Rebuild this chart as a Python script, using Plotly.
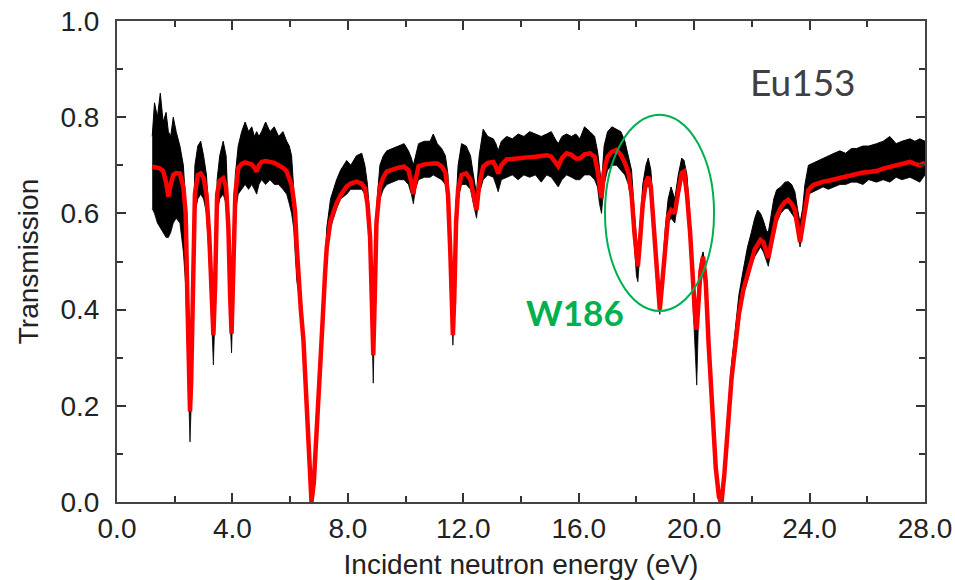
import plotly.graph_objects as go

# Energy grid (eV), fitted transmission (red), and observed data envelope (black band)
energy = [1.22, 1.30, 1.40, 1.50, 1.60, 1.70, 1.78, 1.86, 1.95, 2.05, 2.18, 2.30, 2.38, 2.44, 2.50, 2.53, 2.57, 2.62, 2.70, 2.80,
          2.90, 3.00, 3.10, 3.20, 3.28, 3.34, 3.40, 3.47, 3.56, 3.68, 3.78, 3.86, 3.92, 3.97, 4.03, 4.10, 4.20, 4.32, 4.44, 4.56,
          4.67, 4.76, 4.84, 4.92, 5.01, 5.15, 5.30, 5.45, 5.60, 5.75, 5.88, 5.97, 6.05, 6.12, 6.17, 6.23, 6.28, 6.37, 6.46, 6.57,
          6.66, 6.74, 6.82, 6.90, 6.98, 7.09, 7.21, 7.27, 7.40, 7.50, 7.61, 7.75, 7.96, 8.10, 8.30, 8.48, 8.59, 8.68, 8.77, 8.83,
          8.88, 8.93, 8.99, 9.11, 9.23, 9.35, 9.55, 9.75, 9.95, 10.10, 10.20, 10.27, 10.34, 10.45, 10.65, 10.85, 10.96, 11.10, 11.25, 11.38,
          11.47, 11.55, 11.60, 11.64, 11.69, 11.75, 11.82, 11.94, 12.10, 12.25, 12.35, 12.46, 12.55, 12.69, 12.85, 13.04, 13.13, 13.21, 13.32, 13.50,
          13.70, 13.90, 14.10, 14.30, 14.50, 14.70, 14.89, 15.05, 15.18, 15.29, 15.42, 15.58, 15.75, 15.90, 16.04, 16.20, 16.39, 16.55, 16.65, 16.72,
          16.79, 16.88, 17.00, 17.15, 17.31, 17.46, 17.60, 17.72, 17.83, 17.93, 18.00, 18.05, 18.12, 18.22, 18.33, 18.41, 18.50, 18.60, 18.72, 18.81,
          18.90, 19.00, 19.10, 19.20, 19.33, 19.45, 19.57, 19.65, 19.75, 19.86, 19.96, 20.04, 20.09, 20.15, 20.22, 20.31, 20.40, 20.50, 20.62, 20.75,
          20.86, 20.95, 21.05, 21.17, 21.30, 21.41, 21.55, 21.70, 21.85, 21.98, 22.10, 22.20, 22.30, 22.40, 22.50, 22.57, 22.66, 22.76, 22.86, 23.00,
          23.15, 23.26, 23.38, 23.49, 23.58, 23.67, 23.76, 23.84, 23.96, 24.13, 24.30, 24.47, 24.65, 24.85, 25.05, 25.25, 25.45, 25.63, 25.85, 26.05,
          26.32, 26.55, 26.78, 27.00, 27.20, 27.48, 27.65, 27.82, 28.00]

fit = [0.697, 0.697, 0.695, 0.693, 0.688, 0.665, 0.635, 0.660, 0.680, 0.684, 0.683, 0.655, 0.600, 0.420, 0.220, 0.188, 0.250, 0.450, 0.640, 0.680,
       0.683, 0.674, 0.640, 0.550, 0.420, 0.347, 0.450, 0.640, 0.668, 0.673, 0.655, 0.570, 0.430, 0.350, 0.480, 0.640, 0.694, 0.703, 0.706, 0.705,
       0.702, 0.695, 0.687, 0.700, 0.707, 0.709, 0.707, 0.705, 0.700, 0.695, 0.687, 0.675, 0.659, 0.630, 0.604, 0.530, 0.475, 0.400, 0.337, 0.198,
       0.060, 0.000, 0.040, 0.120, 0.198, 0.337, 0.475, 0.530, 0.585, 0.605, 0.621, 0.638, 0.656, 0.662, 0.666, 0.662, 0.652, 0.620, 0.550, 0.420,
       0.305, 0.420, 0.580, 0.656, 0.675, 0.687, 0.692, 0.695, 0.697, 0.690, 0.665, 0.640, 0.668, 0.698, 0.702, 0.704, 0.704, 0.704, 0.698, 0.685,
       0.640, 0.520, 0.420, 0.347, 0.430, 0.580, 0.650, 0.680, 0.683, 0.670, 0.640, 0.607, 0.660, 0.697, 0.705, 0.707, 0.697, 0.683, 0.700, 0.712,
       0.713, 0.715, 0.716, 0.717, 0.718, 0.719, 0.721, 0.718, 0.708, 0.698, 0.715, 0.725, 0.722, 0.714, 0.714, 0.723, 0.725, 0.718, 0.690, 0.650,
       0.632, 0.690, 0.718, 0.728, 0.732, 0.722, 0.705, 0.685, 0.640, 0.560, 0.510, 0.490, 0.540, 0.620, 0.665, 0.676, 0.655, 0.570, 0.460, 0.400,
       0.460, 0.540, 0.595, 0.607, 0.600, 0.645, 0.684, 0.687, 0.640, 0.560, 0.450, 0.380, 0.358, 0.420, 0.480, 0.510, 0.460, 0.330, 0.190, 0.070,
       0.010, 0.000, 0.060, 0.170, 0.260, 0.316, 0.390, 0.440, 0.475, 0.500, 0.525, 0.535, 0.545, 0.540, 0.515, 0.507, 0.535, 0.570, 0.593, 0.612,
       0.624, 0.628, 0.620, 0.607, 0.575, 0.541, 0.575, 0.607, 0.649, 0.659, 0.663, 0.666, 0.668, 0.671, 0.674, 0.677, 0.680, 0.683, 0.685, 0.686,
       0.688, 0.693, 0.697, 0.700, 0.704, 0.707, 0.703, 0.700, 0.705]

data_low = [0.61, 0.60, 0.58, 0.57, 0.56, 0.55, 0.55, 0.56, 0.58, 0.59, 0.58, 0.52, 0.45, 0.30, 0.14, 0.125, 0.20, 0.40, 0.60, 0.63,
            0.64, 0.63, 0.60, 0.50, 0.38, 0.285, 0.40, 0.60, 0.63, 0.64, 0.62, 0.53, 0.38, 0.31, 0.44, 0.60, 0.64, 0.65, 0.66, 0.65,
            0.66, 0.65, 0.64, 0.66, 0.67, 0.66, 0.67, 0.66, 0.66, 0.65, 0.64, 0.62, 0.60, 0.57, 0.52, 0.46, 0.44, 0.38, 0.32, 0.18,
            0.05, 0.00, 0.03, 0.11, 0.19, 0.33, 0.47, 0.52, 0.57, 0.59, 0.61, 0.63, 0.64, 0.65, 0.65, 0.65, 0.64, 0.60, 0.53, 0.38,
            0.247, 0.40, 0.56, 0.63, 0.65, 0.66, 0.665, 0.67, 0.67, 0.66, 0.64, 0.62, 0.65, 0.67, 0.675, 0.675, 0.68, 0.675, 0.67, 0.66,
            0.62, 0.49, 0.40, 0.326, 0.41, 0.56, 0.63, 0.66, 0.66, 0.65, 0.62, 0.59, 0.64, 0.67, 0.68, 0.675, 0.66, 0.645, 0.67, 0.675,
            0.68, 0.67, 0.68, 0.675, 0.68, 0.665, 0.68, 0.675, 0.665, 0.655, 0.67, 0.68, 0.675, 0.67, 0.67, 0.68, 0.68, 0.67, 0.655, 0.62,
            0.60, 0.66, 0.69, 0.70, 0.70, 0.69, 0.68, 0.66, 0.62, 0.53, 0.47, 0.458, 0.52, 0.60, 0.65, 0.66, 0.64, 0.55, 0.44, 0.39,
            0.45, 0.53, 0.58, 0.59, 0.58, 0.63, 0.67, 0.67, 0.62, 0.54, 0.40, 0.30, 0.243, 0.38, 0.45, 0.48, 0.43, 0.31, 0.17, 0.06,
            0.00, 0.00, 0.05, 0.16, 0.25, 0.31, 0.38, 0.43, 0.46, 0.49, 0.51, 0.52, 0.53, 0.52, 0.50, 0.49, 0.52, 0.55, 0.58, 0.60,
            0.61, 0.61, 0.60, 0.59, 0.56, 0.53, 0.56, 0.60, 0.64, 0.645, 0.65, 0.655, 0.65, 0.655, 0.66, 0.66, 0.665, 0.665, 0.66, 0.67,
            0.665, 0.67, 0.665, 0.675, 0.67, 0.675, 0.67, 0.665, 0.68]

data_high = [0.76, 0.83, 0.80, 0.85, 0.79, 0.81, 0.77, 0.76, 0.80, 0.77, 0.74, 0.70, 0.62, 0.45, 0.25, 0.20, 0.30, 0.50, 0.70, 0.74,
             0.75, 0.72, 0.68, 0.58, 0.45, 0.36, 0.48, 0.67, 0.72, 0.75, 0.72, 0.60, 0.46, 0.36, 0.52, 0.68, 0.74, 0.77, 0.79, 0.77,
             0.78, 0.76, 0.77, 0.76, 0.77, 0.79, 0.77, 0.78, 0.76, 0.77, 0.75, 0.74, 0.72, 0.66, 0.62, 0.55, 0.49, 0.42, 0.35, 0.21,
             0.07, 0.01, 0.05, 0.13, 0.21, 0.36, 0.51, 0.57, 0.63, 0.65, 0.67, 0.69, 0.71, 0.70, 0.72, 0.725, 0.70, 0.66, 0.58, 0.45,
             0.32, 0.45, 0.61, 0.70, 0.72, 0.73, 0.735, 0.74, 0.745, 0.73, 0.715, 0.70, 0.72, 0.745, 0.75, 0.75, 0.765, 0.745, 0.735, 0.72,
             0.68, 0.55, 0.45, 0.36, 0.46, 0.62, 0.70, 0.745, 0.74, 0.72, 0.68, 0.64, 0.72, 0.775, 0.76, 0.755, 0.745, 0.73, 0.75, 0.76,
             0.755, 0.765, 0.76, 0.77, 0.765, 0.76, 0.765, 0.77, 0.755, 0.745, 0.76, 0.765, 0.76, 0.765, 0.755, 0.78, 0.77, 0.76, 0.73, 0.69,
             0.66, 0.74, 0.77, 0.78, 0.775, 0.77, 0.75, 0.72, 0.69, 0.60, 0.54, 0.51, 0.57, 0.66, 0.70, 0.715, 0.69, 0.60, 0.48, 0.41,
             0.48, 0.57, 0.63, 0.655, 0.63, 0.68, 0.715, 0.71, 0.68, 0.59, 0.47, 0.40, 0.37, 0.44, 0.50, 0.52, 0.48, 0.35, 0.20, 0.08,
             0.02, 0.01, 0.07, 0.19, 0.29, 0.35, 0.43, 0.482, 0.53, 0.56, 0.59, 0.607, 0.60, 0.585, 0.565, 0.56, 0.59, 0.63, 0.649, 0.655,
             0.665, 0.666, 0.66, 0.645, 0.61, 0.58, 0.61, 0.66, 0.70, 0.705, 0.71, 0.715, 0.72, 0.725, 0.73, 0.725, 0.735, 0.735, 0.74, 0.74,
             0.745, 0.75, 0.76, 0.745, 0.75, 0.755, 0.75, 0.755, 0.75]

x_ticks = [0, 4, 8, 12, 16, 20, 24, 28]
y_ticks = [0.0, 0.2, 0.4, 0.6, 0.8, 1.0]

fig = go.Figure()
fig.add_trace(go.Scatter(x=energy, y=data_low, mode="lines",
                         line=dict(color="black", width=0.8), showlegend=False, hoverinfo="skip"))
fig.add_trace(go.Scatter(x=energy, y=data_high, mode="lines", fill="tonexty", fillcolor="black",
                         line=dict(color="black", width=1), showlegend=False))
fig.add_trace(go.Scatter(x=energy, y=fit, mode="lines",
                         line=dict(color="#ff0000", width=4.5), showlegend=False))

axis_font = dict(family="Liberation Sans, Arial, sans-serif", size=28, color="#222222")

fig.update_layout(
    width=955, height=580,
    margin=dict(l=117, r=30, t=21, b=78),
    paper_bgcolor="white", plot_bgcolor="white",
    font=axis_font,
    xaxis=dict(range=[0, 28], tickvals=x_ticks, ticktext=[f"{v:.1f}" for v in x_ticks],
               ticks="inside", ticklen=9, tickwidth=2, tickcolor="#333",
               minor=dict(dtick=2, ticks="inside", ticklen=6, tickwidth=2, tickcolor="#333"),
               showline=True, linecolor="#444", linewidth=2, mirror="ticks",
               showgrid=False, zeroline=False, tickfont=axis_font, automargin=False,
               title=dict(text="Incident neutron energy (eV)", font=axis_font, standoff=14)),
    yaxis=dict(range=[0, 1], tickvals=y_ticks, ticktext=[f"{v:.1f}" for v in y_ticks],
               ticks="inside", ticklen=9, tickwidth=2, tickcolor="#333",
               minor=dict(dtick=0.1, ticks="inside", ticklen=6, tickwidth=2, tickcolor="#333"),
               showline=True, linecolor="#444", linewidth=2, mirror="ticks",
               showgrid=False, zeroline=False, tickfont=axis_font, ticklabelstandoff=10, automargin=False,
               title=dict(text="Transmission", font=axis_font, standoff=14)),
)

fig.add_shape(type="circle", xref="x", yref="y", x0=16.91, x1=20.69, y0=0.397, y1=0.805,
              line=dict(color="#00B050", width=2))

fig.add_annotation(x=23.78, y=0.874, xref="x", yref="y", text="Eu153", showarrow=False,
                   font=dict(family="Lato, sans-serif", size=37, color="#404040"))
fig.add_annotation(x=15.87, y=0.394, xref="x", yref="y", text="<b>W186</b>", showarrow=False,
                   font=dict(family="Lato, sans-serif", size=35, color="#00B050"))

fig.write_html("out.html", config={"displayModeBar": False},
               post_script="document.body.style.margin='0';document.body.style.overflow='hidden';")
